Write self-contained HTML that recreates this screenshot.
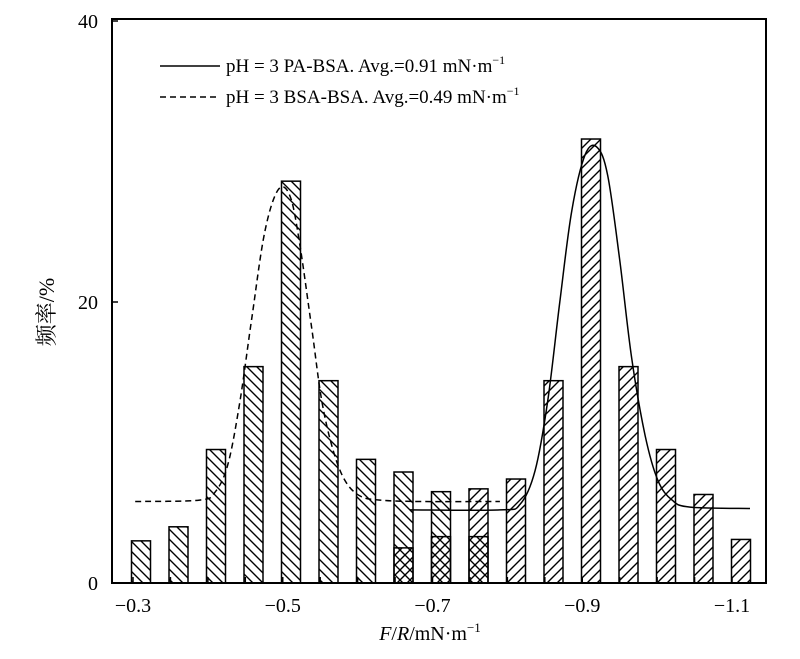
<!DOCTYPE html>
<html><head><meta charset="utf-8"><style>
body{margin:0;background:#fff}
svg{display:block}
text{font-family:"Liberation Serif","Noto Serif CJK SC",serif;fill:#000}
</style></head><body>
<svg id="chart" width="800" height="659" viewBox="0 0 800 659">
<defs>
<pattern id="hb" patternUnits="userSpaceOnUse" width="10" height="10"><path d="M-2,-2 L12,12 M-12,-2 L2,12 M8,-2 L22,12" stroke="#000" stroke-width="1.4"/></pattern>
<pattern id="hf" patternUnits="userSpaceOnUse" width="10" height="10"><path d="M-2,12 L12,-2 M-12,12 L2,-2 M8,12 L22,-2" stroke="#000" stroke-width="1.4"/></pattern>
</defs>
<g id="bars"></g>
<g id="curves"></g>
<rect x="112" y="19" width="654" height="564" fill="none" stroke="#000" stroke-width="2"/>
<g id="axes"></g>
<g>
<line x1="160" y1="66" x2="220" y2="66" stroke="#000" stroke-width="1.5"/>
<text x="226" y="72" font-size="19">pH = 3 PA-BSA. Avg.=0.91 mN·m<tspan dy="-8" font-size="12">−1</tspan></text>
<line x1="160" y1="97" x2="220" y2="97" stroke="#000" stroke-width="1.5" stroke-dasharray="6,4"/>
<text x="226" y="103" font-size="19">pH = 3 BSA-BSA. Avg.=0.49 mN·m<tspan dy="-8" font-size="12">−1</tspan></text>
</g>
<text transform="translate(54,312) rotate(-90)" text-anchor="middle" font-size="22">频率/%</text>
<text x="430" y="640" text-anchor="middle" font-size="20"><tspan font-style="italic">F</tspan>/<tspan font-style="italic">R</tspan>/mN·m<tspan dy="-8" font-size="13">−1</tspan></text>
</svg>
<script>
const bsaValues=[3.0,4.0,9.5,15.4,28.6,14.4,8.8,7.9,6.5,3.3];
const paValues=[2.5,3.3,6.7,7.4,14.4,31.6,15.4,9.5,6.3,3.1];
const paStartIndex=7;
const xTickLabels=["−0.3","−0.5","−0.7","−0.9","−1.1"];
const xTickValues=[0.3,0.5,0.7,0.9,1.1];
const yTickValues=[0,20,40];
const bsaCurveX=[0.303,0.389,0.41,0.427,0.443,0.459,0.476,0.494,0.510,0.523,0.539,0.552,0.567,0.583,0.603,0.630,0.683,0.790];
const bsaCurveY=[5.8,5.9,6.5,8.5,13,19,25,28,27.5,24,18,13,9.5,7.3,6.2,5.9,5.8,5.8];
const paCurveX=[0.670,0.790,0.817,0.837,0.854,0.870,0.886,0.904,0.920,0.934,0.950,0.966,0.984,1.001,1.020,1.044,1.124];
const paCurveY=[5.2,5.2,5.6,8,13,20,26.5,30.5,31.0,29,23,16,10.5,7.3,5.9,5.4,5.3];

const NS="http://www.w3.org/2000/svg";
const xv=v=>133+(v-0.3)/0.2*149.75;
const xb=i=>141+37.5*i;
const y=v=>583-v*14.05;
function mk(tag,attrs,parent){const e=document.createElementNS(NS,tag);for(const k in attrs)e.setAttribute(k,attrs[k]);parent.appendChild(e);return e;}
const bars=document.getElementById('bars');
const BW=19;
bsaValues.forEach((v,i)=>{
  const r=mk('rect',{x:xb(i)-BW/2,y:y(v),width:BW,height:583-y(v),fill:'url(#hb)',stroke:'#000','stroke-width':1.5},bars);
  
  
});
paValues.forEach((v,j)=>{
  const i=j+paStartIndex;
  const r=mk('rect',{x:xb(i)-BW/2,y:y(v),width:BW,height:583-y(v),fill:'url(#hf)',stroke:'#000','stroke-width':1.5},bars);
  
  
});
const curves=document.getElementById('curves');
function path(xs,ys){
  const p=xs.map((v,i)=>[xv(v),y(ys[i])]);
  let d='M'+p[0][0].toFixed(1)+','+p[0][1].toFixed(1);
  for(let i=0;i<p.length-1;i++){
    const p0=p[Math.max(0,i-1)],p1=p[i],p2=p[i+1],p3=p[Math.min(p.length-1,i+2)];
    const c1=[p1[0]+(p2[0]-p0[0])/6,p1[1]+(p2[1]-p0[1])/6];
    const c2=[p2[0]-(p3[0]-p1[0])/6,p2[1]-(p3[1]-p1[1])/6];
    d+=' C'+c1[0].toFixed(1)+','+c1[1].toFixed(1)+' '+c2[0].toFixed(1)+','+c2[1].toFixed(1)+' '+p2[0].toFixed(1)+','+p2[1].toFixed(1);
  }
  return d;
}
const c1=mk('path',{d:path(bsaCurveX,bsaCurveY),fill:'none',stroke:'#000','stroke-width':1.5,'stroke-dasharray':'6,4','stroke-linejoin':'round'},curves);


const c2=mk('path',{d:path(paCurveX,paCurveY),fill:'none',stroke:'#000','stroke-width':1.5,'stroke-linejoin':'round'},curves);


const axes=document.getElementById('axes');
xTickValues.forEach((v,i)=>{
  const t=mk('text',{x:xv(v),y:612,'text-anchor':'middle','font-size':20},axes);
  t.textContent=xTickLabels[i];
  
  
});
for(let k=0;k<=16;k++){
  const l=mk('line',{x1:xv(0.3+0.05*k),x2:xv(0.3+0.05*k),y1:583,y2:577,stroke:'#000','stroke-width':1.5},axes);
  
  
}
yTickValues.forEach(v=>{
  const t=mk('text',{x:98,y:y(v)+7,'text-anchor':'end','font-size':20},axes);
  t.textContent=v;
  
  
  const l=mk('line',{x1:112,x2:118,y1:y(v),y2:y(v),stroke:'#000','stroke-width':1.5},axes);
  
  
});
</script>
</body></html>
